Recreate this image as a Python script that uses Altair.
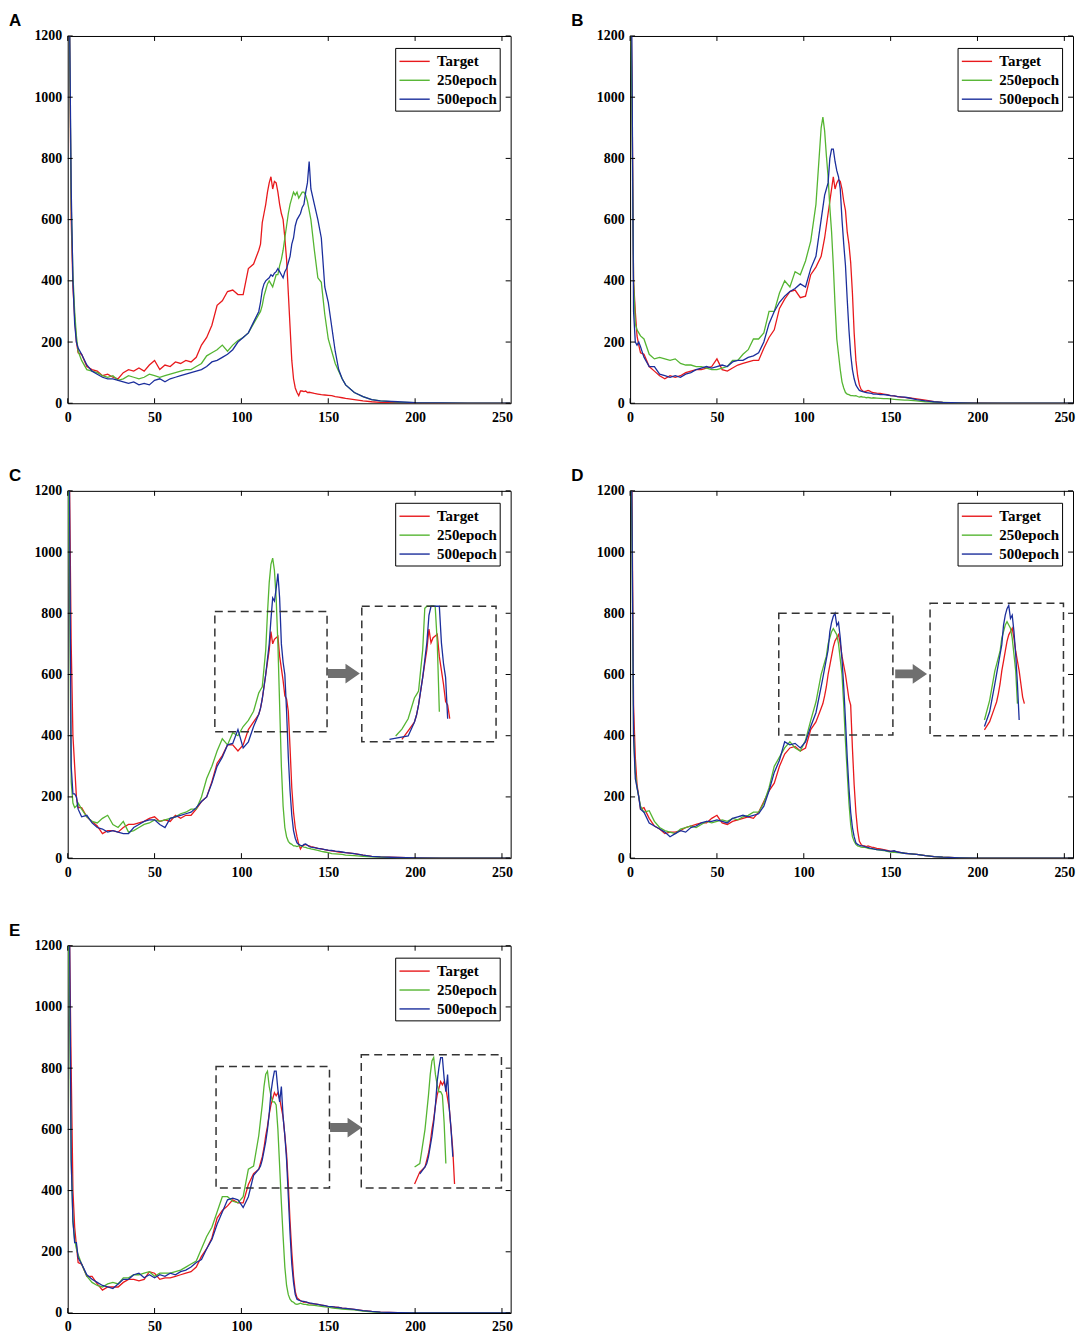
import altair as alt
import pandas as pd

# ---------------- data ----------------
BINS = [0, 1, 2, 3, 4, 5, 6,
        8, 11, 14, 17, 20, 23, 26, 29, 32, 35, 38, 41, 44, 47, 50, 53, 56, 59, 62, 65,
        68, 71, 74, 77, 80, 83, 86, 89, 92, 95, 98, 101, 104, 107, 110,
        111, 112, 113, 114, 115, 116, 117, 118, 119, 120, 121, 122, 123, 124, 125,
        126, 127, 128, 129, 130, 131, 132, 133, 134, 135, 136, 137, 138, 139, 140,
        142, 144, 146, 148, 150, 152, 154, 156, 158, 160,
        165, 170, 175, 180, 190, 200, 215, 230, 255]

SERIES = ["Target", "250epoch", "500epoch"]
COLORS = ["#E8191C", "#55B532", "#1B2E9C"]
X_TICKS = [0, 50, 100, 150, 200, 250]
Y_TICKS = [0, 200, 400, 600, 800, 1000, 1200]

A_T = [1500, 1250, 600, 380, 280, 200, 165,
       160, 120, 110, 105, 90, 95, 85, 80, 100, 110, 105, 115, 105, 125, 140, 110, 125, 120, 135, 130,
       140, 135, 150, 190, 215, 255, 320, 335, 365, 370, 355, 355, 440, 455, 500,
       520, 590, 620, 650, 690, 720, 740, 700, 725, 720, 690, 650, 620, 600, 540,
       470, 360, 250, 140, 80, 50, 35, 25, 40, 40, 38, 40, 35, 36, 35,
       32, 30, 28, 27, 26, 25, 22, 20, 18, 16,
       12, 8, 5, 3, 2, 1, 0, 0, 0]
A_G = [1500, 1250, 650, 420, 300, 220, 170,
       140, 110, 105, 100, 90, 85, 90, 75, 80, 90, 85, 80, 85, 95, 90, 85, 90, 95, 100, 105,
       110, 110, 120, 130, 155, 165, 175, 190, 170, 190, 205, 215, 230, 260, 290,
       300, 320, 350, 370, 390, 400, 390, 380, 400, 420, 420, 450, 470, 500, 540,
       580, 620, 650, 670, 690, 680, 690, 670, 680, 690, 690, 680, 660, 630, 600,
       500, 410, 395, 290, 210, 170, 130, 105, 80, 60,
       35, 22, 12, 8, 4, 2, 1, 0, 0]
A_B = [1500, 1300, 700, 400, 260, 200, 180,
       160, 125, 105, 95, 85, 80, 80, 75, 70, 65, 70, 60, 65, 60, 75, 80, 70, 80, 85, 90,
       95, 100, 105, 110, 120, 135, 140, 150, 160, 175, 200, 215, 230, 265, 300,
       330, 370, 390, 400, 405, 410, 420, 415, 425, 430, 440, 430, 420, 410, 430,
       440, 460, 480, 520, 540, 580, 600, 610, 620, 640, 650, 690, 720, 790, 700,
       650, 600, 540, 380, 330, 250, 170, 110, 80, 60,
       35, 22, 12, 8, 5, 2, 1, 0, 0]

B_T = [1500, 1100, 400, 300, 220, 190, 165,
       160, 120, 105, 90, 80, 90, 85, 90, 100, 105, 110, 110, 115, 120, 145, 110, 105, 115, 125, 130,
       135, 140, 140, 180, 215, 240, 310, 340, 365, 370, 345, 350, 420, 445, 480,
       510, 540, 580, 620, 660, 700, 740, 700, 720, 730, 725, 700, 660, 630, 560,
       520, 460, 360, 230, 140, 90, 60, 45, 40, 38, 40, 42, 40, 36, 35,
       33, 32, 30, 28, 25, 24, 22, 20, 19, 18,
       14, 10, 5, 3, 2, 1, 0, 0, 0]
B_G = [1500, 1000, 400, 260, 240, 230, 220,
       210, 160, 145, 150, 145, 140, 145, 130, 125, 125, 120, 120, 115, 110, 110, 115, 120, 140, 140, 160,
       175, 210, 210, 230, 300, 300, 360, 400, 380, 430, 420, 465, 530, 650, 900,
       935, 890, 810, 740, 640, 560, 450, 320, 210, 160, 110, 70, 50, 35, 30,
       28, 25, 25, 24, 25, 22, 20, 22, 20, 20, 18, 19, 18, 17, 18,
       17, 16, 15, 15, 14, 13, 12, 11, 10, 10,
       8, 5, 4, 3, 1, 0, 0, 0, 0]
B_B = [1500, 1200, 300, 200, 190, 200, 185,
       150, 120, 120, 95, 90, 85, 90, 85, 95, 100, 110, 115, 120, 115, 120, 125, 120, 135, 140, 140,
       150, 155, 165, 200, 260, 300, 330, 350, 365, 375, 390, 380, 440, 480, 600,
       640, 680, 700, 720, 800, 830, 830, 790, 760, 740, 700, 600, 520, 450, 340,
       240, 160, 110, 80, 60, 50, 42, 40, 38, 36, 35, 34, 33, 32, 30,
       30, 28, 28, 27, 25, 24, 22, 21, 20, 18,
       12, 8, 5, 3, 1, 0, 0, 0, 0]

C_T = [1500, 1250, 700, 400, 300, 200, 165,
       165, 135, 120, 105, 80, 90, 90, 85, 100, 110, 110, 115, 120, 130, 135, 120, 125, 120, 140, 130,
       140, 140, 160, 185, 200, 250, 310, 335, 370, 370, 350, 370, 420, 445, 470,
       490, 520, 560, 600, 640, 680, 740, 700, 715, 720, 725, 660, 620, 580, 530,
       520, 480, 360, 230, 150, 100, 70, 45, 30, 40, 42, 45, 42, 40, 38,
       35, 32, 30, 28, 25, 24, 22, 20, 19, 18,
       15, 10, 6, 4, 2, 1, 0, 0, 0]
C_G = [1500, 900, 250, 180, 165, 170, 180,
       160, 135, 120, 115, 130, 140, 110, 100, 120, 85, 90, 100, 110, 115, 125, 120, 125, 130, 135, 145,
       150, 160, 160, 200, 260, 300, 350, 390, 370, 410, 400, 430, 450, 480, 540,
       550, 560, 620, 680, 800, 900, 960, 980, 940, 850, 700, 500, 300, 170, 100,
       70, 55, 48, 45, 40, 40, 38, 40, 40, 38, 36, 35, 33, 32, 30,
       28, 25, 22, 20, 18, 15, 14, 13, 12, 10,
       8, 6, 4, 3, 1, 0, 0, 0, 0]
C_B = [1500, 1200, 300, 210, 210, 200, 160,
       135, 140, 115, 100, 95, 85, 90, 85, 80, 80, 100, 110, 120, 125, 125, 110, 100, 130, 135, 140,
       145, 150, 165, 185, 200, 245, 300, 330, 370, 375, 420, 360, 380, 430, 470,
       490, 520, 560, 600, 650, 700, 780, 850, 840, 880, 930, 850, 700, 640, 600,
       480, 330, 220, 140, 90, 65, 50, 45, 42, 40, 45, 46, 42, 38, 36,
       34, 32, 30, 28, 26, 25, 23, 22, 20, 18,
       15, 10, 6, 4, 2, 1, 0, 0, 0]

D_T = [1500, 1250, 500, 330, 240, 200, 160,
       165, 130, 105, 95, 80, 85, 85, 90, 100, 105, 110, 115, 115, 130, 140, 115, 110, 120, 125, 130,
       135, 130, 150, 185, 220, 245, 300, 340, 360, 365, 350, 360, 420, 445, 490,
       505, 530, 560, 600, 630, 660, 690, 710, 720, 730, 700, 660, 630, 600, 560,
       520, 500, 360, 240, 150, 90, 55, 45, 40, 40, 38, 40, 38, 36, 35,
       32, 30, 28, 25, 22, 22, 20, 18, 16, 15,
       12, 8, 5, 3, 1, 0, 0, 0, 0]
D_G = [1500, 1100, 400, 280, 230, 200, 170,
       150, 155, 120, 100, 90, 85, 80, 95, 100, 105, 100, 110, 120, 115, 120, 125, 120, 130, 125, 135,
       140, 150, 150, 180, 230, 300, 330, 360, 380, 360, 350, 385, 450, 510, 600,
       620, 640, 660, 700, 720, 740, 750, 740, 730, 700, 650, 600, 500, 380, 280,
       180, 110, 70, 55, 45, 40, 38, 36, 35, 35, 34, 32, 31, 30, 30,
       28, 26, 25, 22, 20, 19, 18, 17, 16, 15,
       12, 8, 5, 3, 1, 0, 0, 0, 0]
D_B = [1500, 1200, 400, 260, 230, 200, 160,
       150, 115, 105, 95, 85, 70, 80, 90, 85, 100, 105, 115, 120, 120, 125, 120, 115, 130, 135, 140,
       135, 140, 145, 170, 220, 280, 320, 380, 370, 375, 360, 380, 430, 475, 560,
       590, 620, 650, 680, 740, 770, 790, 800, 760, 770, 720, 650, 560, 450, 330,
       230, 150, 100, 70, 50, 45, 42, 40, 40, 38, 36, 35, 33, 32, 30,
       28, 27, 26, 24, 22, 24, 20, 18, 16, 15,
       12, 8, 5, 3, 1, 0, 0, 0, 0]

E_T = [1500, 1250, 800, 400, 280, 220, 165,
       160, 120, 120, 95, 75, 85, 85, 85, 100, 110, 110, 105, 110, 135, 130, 110, 115, 115, 120, 125,
       130, 135, 150, 185, 210, 245, 310, 335, 350, 370, 360, 360, 420, 455, 470,
       490, 510, 540, 580, 610, 650, 680, 700, 720, 710, 720, 700, 670, 640, 580,
       520, 420, 300, 200, 120, 70, 50, 45, 40, 38, 35, 36, 34, 32, 30,
       30, 28, 26, 24, 20, 20, 19, 18, 16, 15,
       12, 8, 5, 3, 1, 0, 0, 0, 0]
E_G = [1500, 1000, 500, 300, 240, 210, 190,
       160, 120, 100, 90, 85, 95, 100, 95, 115, 115, 125, 125, 130, 135, 120, 130, 130, 130, 135, 140,
       150, 160, 170, 210, 250, 280, 330, 380, 380, 365, 360, 380, 470, 480, 580,
       630, 680, 740, 780, 790, 740, 710, 690, 690, 680, 600, 480, 360, 250, 150,
       90, 60, 45, 38, 35, 30, 28, 30, 32, 30, 28, 28, 27, 26, 26,
       25, 23, 22, 20, 19, 17, 15, 14, 13, 12,
       10, 6, 4, 2, 1, 0, 0, 0, 0]
E_B = [1500, 1300, 500, 300, 230, 230, 180,
       160, 125, 110, 100, 90, 85, 80, 95, 110, 110, 125, 130, 115, 125, 115, 125, 120, 130, 125, 135,
       140, 150, 165, 175, 210, 240, 290, 330, 370, 375, 370, 345, 380, 450, 470,
       480, 500, 530, 560, 600, 650, 720, 760, 790, 790, 730, 690, 740, 640, 580,
       500, 380, 260, 160, 100, 60, 45, 42, 40, 38, 38, 36, 35, 33, 32,
       30, 28, 26, 24, 22, 21, 19, 18, 16, 15,
       12, 8, 5, 3, 1, 0, 0, 0, 0]

# zoom insets: main box (data units), inset box, and the content mapping
INSETS = {
    "C": dict(box=(84.7, 149.3, 413, 806), inset=(169.3, 246.6, 380, 823),
              ox=169.3, sx=1.197, oy=380, sy=1.127, arrow=(159, 603)),
    "D": dict(box=(85.6, 151.3, 402, 800), inset=(172.7, 249.5, 400, 833),
              ox=185.6, sx=1.0, oy=400, sy=1.07, arrow=(161.8, 602)),
    "E": dict(box=(85.4, 150.7, 408.5, 805), inset=(169.0, 249.7, 408.5, 843.5),
              ox=181.1, sx=1.0, oy=408.5, sy=1.117, arrow=(160.2, 606)),
}

# ---------------- styling ----------------
W, H = 445, 369
SERIF = "Liberation Serif"
ARROW = "M-1,-0.28 L0.1,-0.28 L0.1,-0.62 L1,0 L0.1,0.62 L0.1,0.28 L-1,0.28 Z"

xs = alt.Scale(domain=[0, 255], nice=False, zero=False)
ys = alt.Scale(domain=[0, 1200], nice=False)
XAX = alt.Axis(values=X_TICKS, ticks=False, domain=False, grid=False, title=None,
               format="d", labelFont=SERIF, labelFontWeight="bold", labelFontSize=14,
               labelColor="black", labelPadding=7, labelFlush=False)
YAX = alt.Axis(values=Y_TICKS, ticks=False, domain=False, grid=False, title=None,
               format="d", labelFont=SERIF, labelFontWeight="bold", labelFontSize=14,
               labelColor="black", labelPadding=6, labelFlush=False)
CSCALE = alt.Scale(domain=SERIES, range=COLORS)
LEG = alt.Legend(title=None, orient="none", legendX=329, legendY=12,
                 direction="vertical", fillColor="white", strokeColor="black",
                 padding=3, labelFont=SERIF, labelFontWeight="bold",
                 labelFontSize=15, labelColor="black", symbolType="M-1.6,0H1.6",
                 symbolSize=361, symbolStrokeWidth=1.4, rowPadding=0,
                 symbolOffset=6, labelOffset=12)


def panel(letter, t, g, b):
    df = pd.concat([
        pd.DataFrame({"bin": BINS, "value": vals, "series": s})
        for s, vals in zip(SERIES, [t, g, b])
    ], ignore_index=True)
    color = alt.Color("series:N", scale=CSCALE, sort=SERIES, legend=LEG)
    layers = []
    for s in SERIES:
        layers.append(
            alt.Chart(df).transform_filter(alt.datum.series == s)
            .mark_line(strokeWidth=1.3, clip=True)
            .encode(x=alt.X("bin:Q", scale=xs, axis=XAX),
                    y=alt.Y("value:Q", scale=ys, axis=YAX),
                    color=color)
        )
    if letter in INSETS:
        p = INSETS[letter]
        bx0, bx1, by0, by1 = p["box"]
        ix0, ix1, iy0, iy1 = p["inset"]
        for s in SERIES:
            layers.append(
                alt.Chart(df).transform_filter(alt.datum.series == s)
                .transform_filter(f"datum.bin >= {bx0} && datum.bin <= {bx1} && datum.value >= {by0}")
                .transform_calculate(
                    ix=f"{p['ox']} + (datum.bin - {bx0}) * {p['sx']}",
                    iy=f"min({p['oy']} + (datum.value - {by0}) * {p['sy']}, {iy1})")
                .mark_line(strokeWidth=1.3)
                .encode(x=alt.X("ix:Q", scale=xs, axis=XAX),
                        y=alt.Y("iy:Q", scale=ys, axis=YAX),
                        color=color)
            )
        boxes = pd.DataFrame({"x": [bx0, ix0], "x2": [bx1, ix1],
                              "y": [by0, iy0], "y2": [by1, iy1]})
        layers.append(
            alt.Chart(boxes).mark_rect(filled=False, stroke="#333333",
                                       strokeWidth=1.5, strokeDash=[8, 5])
            .encode(x=alt.X("x:Q", scale=xs, axis=XAX), x2="x2:Q",
                    y=alt.Y("y:Q", scale=ys, axis=YAX), y2="y2:Q")
        )
        arr = pd.DataFrame({"x": [p["arrow"][0]], "y": [p["arrow"][1]]})
        layers.append(
            alt.Chart(arr).mark_point(shape=ARROW, size=1024, filled=True,
                                      color="#6f6f6f", opacity=1, strokeWidth=0)
            .encode(x=alt.X("x:Q", scale=xs, axis=XAX),
                    y=alt.Y("y:Q", scale=ys, axis=YAX))
        )
    # inward ticks on all four sides (MATLAB-style box)
    xt = pd.DataFrame({"v": X_TICKS})
    yt = pd.DataFrame({"v": Y_TICKS})
    for y0, y1 in [(H, H - 5), (0, 5)]:
        layers.append(
            alt.Chart(xt).mark_rule(color="black", strokeWidth=1)
            .encode(x=alt.X("v:Q", scale=xs, axis=XAX),
                    y=alt.value(y0), y2=alt.value(y1))
        )
    for x0, x1 in [(0, 5), (W - 5, W)]:
        layers.append(
            alt.Chart(yt).mark_rule(color="black", strokeWidth=1)
            .encode(y=alt.Y("v:Q", scale=ys, axis=YAX),
                    x=alt.value(x0), x2=alt.value(x1))
        )
    return alt.layer(*layers).properties(
        width=W, height=H,
        title=alt.TitleParams(letter, anchor="start", frame="group", dx=-59,
                              font="Liberation Sans", fontWeight="bold",
                              fontSize=17, color="black", offset=-1),
    )


pA = panel("A", A_T, A_G, A_B)
pB = panel("B", B_T, B_G, B_B)
pC = panel("C", C_T, C_G, C_B)
pD = panel("D", D_T, D_G, D_B)
pE = panel("E", E_T, E_G, E_B)

row1 = alt.hconcat(pA, pB, spacing=57).resolve_scale(color="independent").resolve_legend(color="independent")
row2 = alt.hconcat(pC, pD, spacing=57).resolve_scale(color="independent").resolve_legend(color="independent")

chart = (
    alt.vconcat(row1, row2, pE, spacing=41)
    .resolve_scale(color="independent")
    .resolve_legend(color="independent")
    .properties(padding=0, background="white")
    .configure_view(stroke="black", strokeWidth=1)
)

chart.save("out.html", embed_options={"renderer": "svg", "actions": False})
